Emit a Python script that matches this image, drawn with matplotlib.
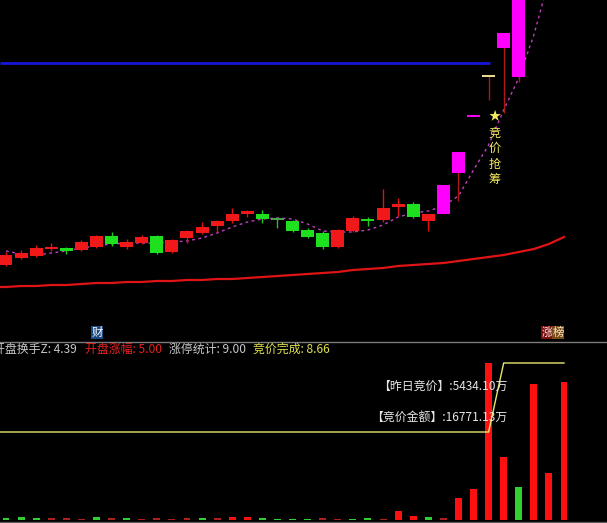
import matplotlib
matplotlib.use('Agg')
import matplotlib.pyplot as plt
from matplotlib.lines import Line2D
import numpy as np

plt.rcParams['font.family'] = ['Noto Sans CJK SC', 'DejaVu Sans']

# ---------------- data ----------------
opens  = [7.5, 8.2, 8.4, 9.1, 9.2, 9.0, 9.3, 10.4, 9.3, 9.7,
          10.4, 8.8, 10.2, 10.7, 11.4, 11.9, 12.6, 12.6, 12.2, 11.9,
          11.0, 10.7, 9.3, 10.9, 12.05, 12.0, 13.3, 13.6, 11.9, 12.6,
          16.7, 22.4, 26.4, 29.2, 26.3]
highs  = [8.8, 9.0, 9.5, 9.7, 9.3, 10.0, 10.5, 10.8, 10.1, 10.5,
          10.5, 10.1, 11.0, 11.8, 12.0, 13.2, 13.0, 13.0, 12.3, 12.0,
          11.2, 10.9, 11.1, 12.4, 12.3, 15.1, 14.2, 13.8, 12.6, 15.5,
          18.8, 22.4, 26.4, 30.7, 35.5]
lows   = [7.4, 8.1, 8.3, 8.9, 8.6, 8.9, 9.2, 9.4, 9.1, 9.6,
          8.6, 8.7, 9.7, 10.6, 10.8, 11.7, 12.3, 11.7, 11.2, 10.8,
          10.2, 9.1, 9.2, 10.8, 11.4, 11.8, 12.4, 12.2, 10.9, 12.6,
          13.9, 22.4, 24.0, 22.7, 25.8]
closes = [8.5, 8.7, 9.2, 9.3, 8.9, 9.8, 10.4, 9.6, 9.8, 10.3,
          8.7, 10.0, 10.9, 11.3, 11.9, 12.6, 12.9, 12.1, 12.1, 10.9,
          10.3, 9.3, 11.0, 12.2, 11.95, 13.2, 13.6, 12.3, 12.6, 15.5,
          18.8, 22.4, 26.4, 30.7, 35.5]
# 'n' normal, 'm' strong (limit) day, 't' auction T-bar
candle_type = ['n'] * 29 + ['m', 'm', 'm', 't', 'm', 'm']

ma_short = [8.9, 8.6, 8.5, 8.7, 8.9, 9.2, 9.4, 9.6, 9.7, 9.7,
            9.7, 9.8, 9.9, 10.2, 10.7, 11.3, 11.8, 12.1, 12.2, 12.1,
            11.6, 10.9, 10.8, 10.8, 11.0, 11.5, 12.3, 12.7, 12.9, 13.4,
            14.4, 17.0, 19.5, 23.0, 26.2, 30.5, 36.0]
ma_long = [5.3, 5.4, 5.4, 5.5, 5.5, 5.6, 5.7, 5.7, 5.8, 5.8,
           5.9, 5.9, 6.0, 6.0, 6.1, 6.1, 6.2, 6.3, 6.4, 6.5,
           6.6, 6.7, 6.8, 7.0, 7.1, 7.2, 7.4, 7.5, 7.6, 7.7,
           7.9, 8.1, 8.3, 8.5, 8.8, 9.1, 9.6, 10.3]
level_price = 27.7
level_end = 32.1

volume = [2, 3, 2, 2, 2, 1, 3, 2, 2, 1,
          2, 1, 2, 2, 2, 3, 3, 2, 1, 1,
          1, 2, 1, 1, 2, 1, 9, 4, 3, 2,
          22, 31, 157, 63, 33, 136, 47, 138]
# 2 strong up, 1 weak up, -1 down
vol_dir = [-1, -1, -1, 1, 1, 1, -1, 1, -1, 1,
           1, 1, 1, -1, 1, 2, 2, -1, -1, -1,
           -1, 1, 1, -1, -1, 1, 2, 2, -1, 1,
           2, 2, 2, 2, -1, 2, 2, 2]
auction_line = [88, 88, 88, 88, 88, 88, 88, 88, 88, 88,
                88, 88, 88, 88, 88, 88, 88, 88, 88, 88,
                88, 88, 88, 88, 88, 88, 88, 88, 88, 88,
                88, 88, 88, 157, 157, 157, 157, 157]

header = [('开盘换手Z: 4.39', '#c8c8c8'), ('开盘涨幅: 5.00', '#e82020'),
          ('涨停统计: 9.00', '#c8c8c8'), ('竞价完成: 8.66', '#e0e050')]
info_lines = ['【昨日竞价】:5434.10万', '【竞价金额】:16771.13万']
signal_text = '★竞价抢筹'

# ---------------- figure ----------------
W, H = 607, 523
fig = plt.figure(figsize=(W / 100, H / 100), dpi=100, facecolor='black')

def fx(px):
    return px / W

def fy(py):
    return 1 - py / H

XL = (-0.398, 39.85)
ax = fig.add_axes([0, fy(341), 1, 341 / H])
axv = fig.add_axes([0, 0, 1, (523 - 343) / H])
for a in (ax, axv):
    a.set_facecolor('black')
    a.set_xlim(*XL)
    a.axis('off')
ax.set_ylim(-0.1, 34.0)
axv.set_ylim(-3, 177)

RED = '#f01818'
GREEN = '#1ee01e'
MAG = '#ff00ff'
WICKR = '#b01818'

# level line
ax.hlines(level_price, XL[0], level_end, color='#1616d8', lw=2.0, zorder=2)

# long MA
xl = np.arange(len(ma_long))
ax.plot(np.r_[XL[0], xl], np.r_[ma_long[0], ma_long], color='#e01414', lw=1.6, zorder=2)

# short MA dotted
xs = np.arange(len(ma_short))
ax.plot(xs, ma_short, color='#c040c0', lw=1.0, linestyle=(0, (2, 2.5)), zorder=2)

# candles
bw = 0.86
for i in range(len(opens)):
    o, h, l, c, t = opens[i], highs[i], lows[i], closes[i], candle_type[i]
    if t == 'm':
        bc, wc = MAG, WICKR
    elif t == 't':
        bc, wc = '#f0e090', WICKR
    elif c >= o:
        bc, wc = RED, '#e01010'
    else:
        bc, wc = GREEN, '#1ec81e'
        if abs(c - o) < 0.15 and i == 18:
            bc, wc = '#48a848', '#48a848'
    if h > l:
        ax.vlines(i, l, h, color=wc, lw=1.0, zorder=3)
    lo, hi = min(o, c), max(o, c)
    if hi - lo < 0.15:
        ax.hlines((o + c) / 2, i - bw / 2, i + bw / 2, color=bc, lw=1.4, zorder=4)
    else:
        ax.bar(i, hi - lo, bottom=lo, width=bw, color=bc, edgecolor='none', zorder=4)

# signal text
sx = fx(494.5)
sy = [116, 133, 148, 164, 179]
for ch, yy in zip(signal_text, sy):
    fig.text(sx, fy(yy), ch, color='#f4ec60', fontsize=8.8, ha='center', va='center')

# volume
vcols = {2: '#ff1010', 1: '#b02020', -1: '#30d030'}
xv = np.arange(len(volume))
axv.bar(xv, volume, width=0.46, color=[vcols[d] for d in vol_dir], edgecolor='none', zorder=2)
axv.plot(np.r_[XL[0], xv], np.r_[auction_line[0], auction_line], color='#e8e870', lw=1.0, zorder=3)

for txt, yy in zip(info_lines, [386, 417]):
    fig.text(fx(507), fy(yy), txt, color='#e6e6e6', fontsize=8.6, ha='right', va='center', zorder=5)

# separators
fig.add_artist(Line2D([0, 1], [fy(341.5)] * 2, color='#7a7a7a', lw=1.0))
fig.add_artist(Line2D([0, 1], [fy(521.5)] * 2, color='#5a5a5a', lw=1.0))

# header
hx = [-7, 85, 169, 253]
for (txt, col), x0 in zip(header, hx):
    fig.text(fx(x0), fy(349), txt, color=col, fontsize=8.6, ha='left', va='center')

# tags
fig.text(fx(97), fy(332.5), '财', color='white', fontsize=8.2, ha='center', va='center',
         bbox=dict(boxstyle='square,pad=0.05', fc='#1c4a80', ec='none'))
fig.text(fx(547), fy(332.5), '涨', color='#f0e0e0', fontsize=8.2, ha='center', va='center',
         bbox=dict(boxstyle='square,pad=0.05', fc='#801010', ec='none'))
fig.text(fx(558), fy(332.5), '榜', color='#f0e0c0', fontsize=8.2, ha='center', va='center',
         bbox=dict(boxstyle='square,pad=0.05', fc='#7a4a14', ec='none'))

fig.savefig('out.png', dpi=100, facecolor='black')
